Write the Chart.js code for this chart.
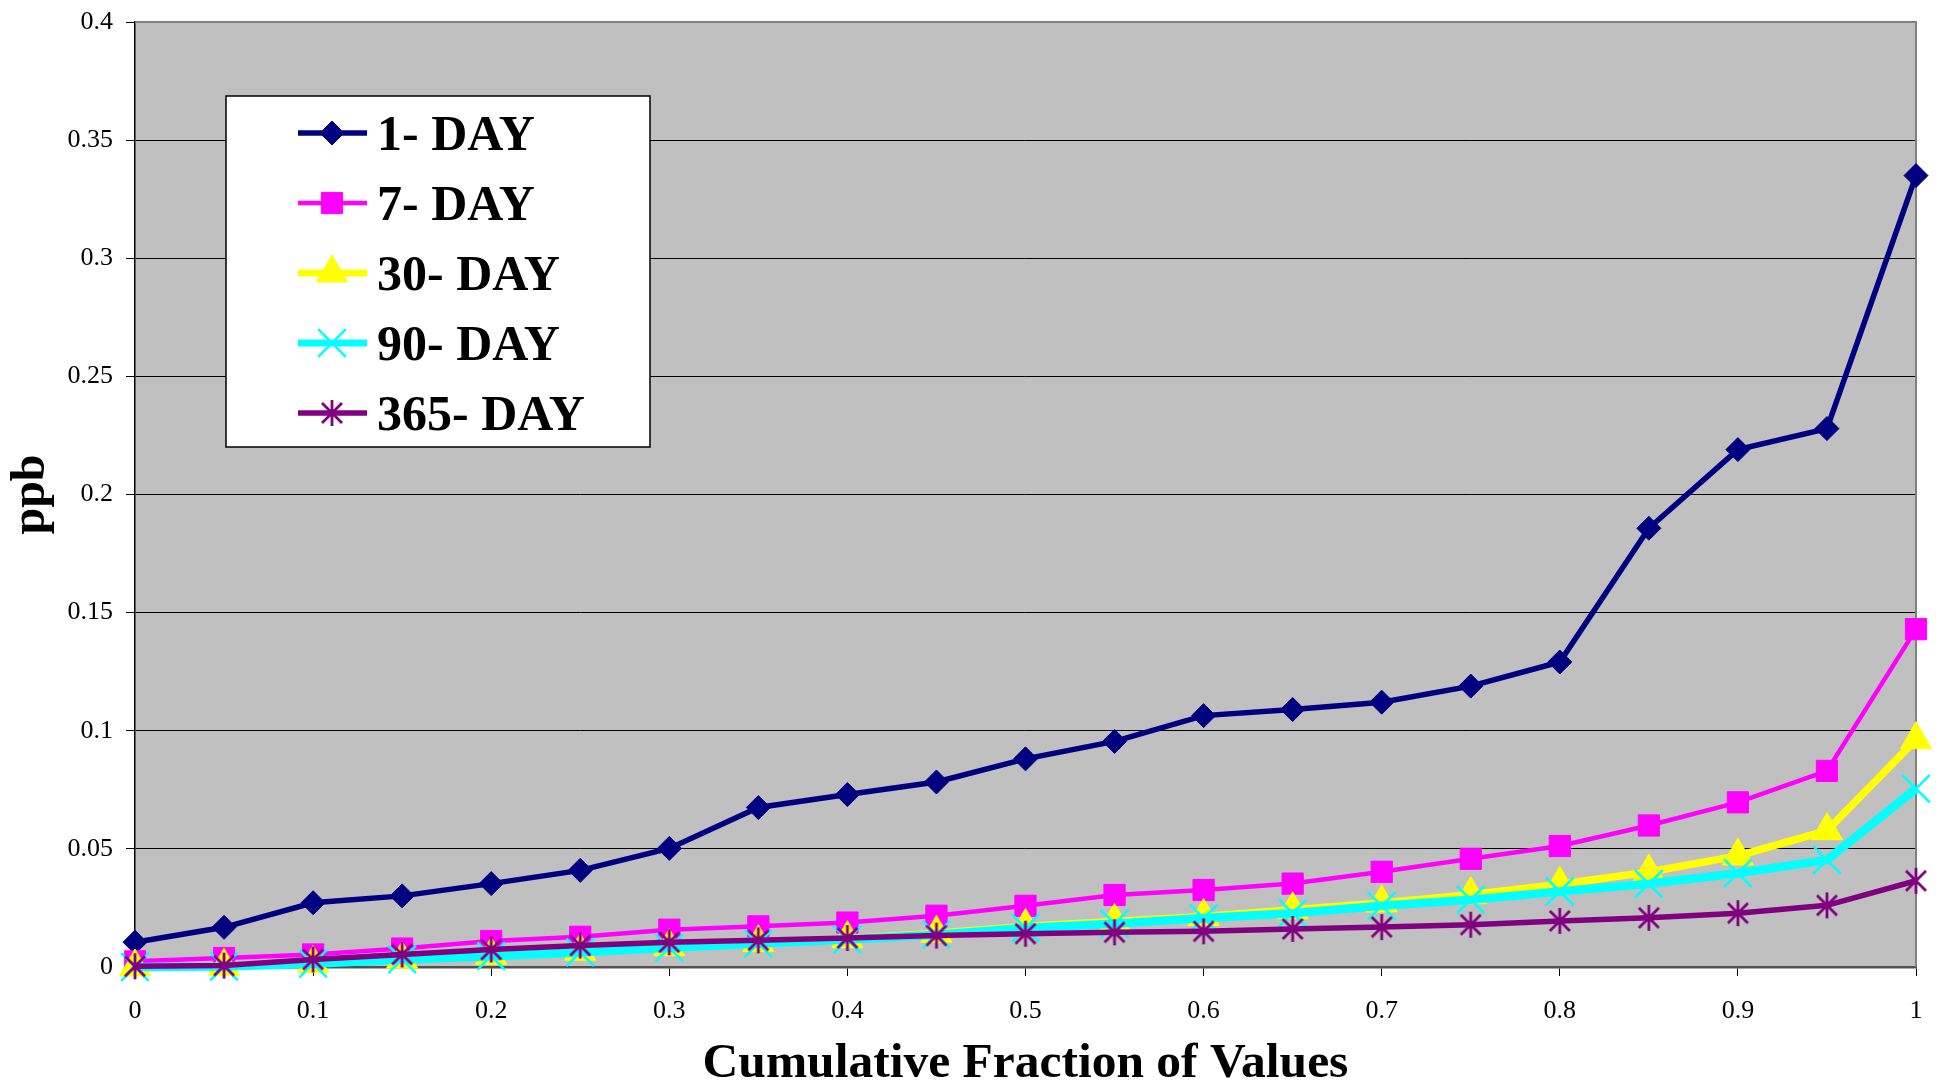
<!DOCTYPE html>
<html>
<head>
<meta charset="utf-8">
<script src="https://cdn.jsdelivr.net/npm/chart.js@4.4.1/dist/chart.umd.min.js"></script>
<style>
  html, body { margin: 0; padding: 0; background: #fff; }
  #wrap { width: 1940px; height: 1086px; }
</style>
</head>
<body>
<div id="wrap"><canvas id="myChart" width="1940" height="1086"></canvas></div>
<script>
// x = cumulative fraction
const fractions = [0, 0.05, 0.1, 0.15, 0.2, 0.25, 0.3, 0.35, 0.4, 0.45, 0.5,
                   0.55, 0.6, 0.65, 0.7, 0.75, 0.8, 0.85, 0.9, 0.95, 1];

const seriesNames = ['1- DAY', '7- DAY', '30- DAY', '90- DAY', '365- DAY'];

// ppb values
const oneDay    = [0.0105, 0.0168, 0.0272, 0.0301, 0.0353, 0.0409, 0.0502, 0.0675, 0.0730, 0.0783, 0.0881,
                   0.0955, 0.1064, 0.1090, 0.1121, 0.1189, 0.1291, 0.1857, 0.2190, 0.2279, 0.3350];
const sevenDay  = [0.0024, 0.0038, 0.0053, 0.0078, 0.0110, 0.0128, 0.0158, 0.0172, 0.0188, 0.0217, 0.0259,
                   0.0305, 0.0326, 0.0353, 0.0403, 0.0458, 0.0512, 0.0599, 0.0697, 0.0830, 0.1430];
const thirtyDay = [0.0000, 0.0003, 0.0015, 0.0033, 0.0050, 0.0067, 0.0086, 0.0103, 0.0120, 0.0143, 0.0172,
                   0.0193, 0.0214, 0.0242, 0.0271, 0.0306, 0.0350, 0.0402, 0.0470, 0.0577, 0.0962];
const ninetyDay = [0.0000, 0.0002, 0.0014, 0.0032, 0.0046, 0.0062, 0.0081, 0.0099, 0.0116, 0.0137, 0.0165,
                   0.0183, 0.0207, 0.0228, 0.0259, 0.0285, 0.0320, 0.0352, 0.0397, 0.0453, 0.0755];
const yearDay   = [0.0003, 0.0006, 0.0032, 0.0053, 0.0074, 0.0091, 0.0105, 0.0113, 0.0123, 0.0133, 0.0141,
                   0.0147, 0.0151, 0.0161, 0.0169, 0.0179, 0.0195, 0.0208, 0.0228, 0.0261, 0.0365];

const allSeries = [oneDay, sevenDay, thirtyDay, ninetyDay, yearDay];

const FONT = "'Liberation Serif', 'Times New Roman', serif";

// asterisk marker (X + vertical bar) like the excel one
function makeAsterisk(color) {
  const c = document.createElement('canvas');
  c.width = 28; c.height = 30;
  const g = c.getContext('2d');
  g.strokeStyle = color; g.lineWidth = 2.8; g.lineCap = 'butt';
  g.translate(14, 15);
  g.beginPath();
  g.moveTo(-10, -10); g.lineTo(10, 10);
  g.moveTo(-10, 10); g.lineTo(10, -10);
  g.moveTo(0, -13); g.lineTo(0, 13);
  g.stroke();
  return c;
}

const styles = [
  { color: '#000080', width: 5.5, point: 'rectRot', radius: 12, pbw: 1 },
  { color: '#FF00FF', width: 4.5, point: 'rect', radius: 15, pbw: 1 },
  { color: '#FFFF00', width: 7.5, point: 'triangle', radius: 18, pbw: 1 },
  { color: '#00FFFF', width: 8.5, point: 'crossRot', radius: 19.5, pbw: 2.5 },
  { color: '#800080', width: 5.5, point: makeAsterisk('#800080'), radius: 10, pbw: 1 }
];

const datasets = allSeries.map((s, k) => ({
  label: seriesNames[k],
  data: fractions.map((x, i) => ({ x: x, y: s[i] })),
  borderColor: styles[k].color,
  backgroundColor: styles[k].color,
  borderWidth: styles[k].width,
  pointStyle: styles[k].point,
  pointRadius: styles[k].radius,
  pointBackgroundColor: styles[k].color,
  pointBorderColor: styles[k].color,
  pointBorderWidth: styles[k].pbw,
  tension: 0,
  clip: false,
  order: allSeries.length - k   // later series on top
}));

// grey plot area + border
const plotBg = {
  id: 'plotBg',
  beforeDraw(chart) {
    const { ctx, chartArea: a } = chart;
    ctx.save();
    ctx.fillStyle = '#C0C0C0';
    ctx.fillRect(a.left, a.top, a.right - a.left, a.bottom - a.top);
    ctx.restore();
  },
  beforeDatasetsDraw(chart) {
    const { ctx, chartArea: a } = chart;
    ctx.save();
    ctx.strokeStyle = '#808080';
    ctx.lineWidth = 2;
    ctx.beginPath();
    ctx.moveTo(a.left, a.top); ctx.lineTo(a.right, a.top); ctx.lineTo(a.right, a.bottom);
    ctx.stroke();
    ctx.restore();
  }
};

function legendMarker(ctx, st, x, y) {
  ctx.save();
  ctx.fillStyle = st.color; ctx.strokeStyle = st.color;
  ctx.lineWidth = st.pbw;
  const r = st.radius;
  ctx.beginPath();
  if (typeof st.point !== 'string') {
    ctx.drawImage(st.point, x - st.point.width / 2, y - st.point.height / 2);
  } else if (st.point === 'rectRot') {
    ctx.moveTo(x, y - r); ctx.lineTo(x + r, y); ctx.lineTo(x, y + r); ctx.lineTo(x - r, y);
    ctx.closePath(); ctx.fill(); ctx.stroke();
  } else if (st.point === 'rect') {
    const h = r * Math.SQRT1_2;
    ctx.rect(x - h, y - h, 2 * h, 2 * h); ctx.fill(); ctx.stroke();
  } else if (st.point === 'triangle') {
    ctx.moveTo(x, y - r);
    ctx.lineTo(x + r * Math.cos(Math.PI / 6), y + r / 2);
    ctx.lineTo(x - r * Math.cos(Math.PI / 6), y + r / 2);
    ctx.closePath(); ctx.fill(); ctx.stroke();
  } else if (st.point === 'crossRot') {
    const h = r * Math.SQRT1_2;
    ctx.moveTo(x - h, y - h); ctx.lineTo(x + h, y + h);
    ctx.moveTo(x - h, y + h); ctx.lineTo(x + h, y - h);
    ctx.stroke();
  }
  ctx.restore();
}

// boxed legend inside the plot
const boxLegend = {
  id: 'boxLegend',
  afterDatasetsDraw(chart) {
    const ctx = chart.ctx;
    ctx.save();
    ctx.fillStyle = '#fff';
    ctx.fillRect(226, 96, 424, 351);
    ctx.strokeStyle = '#000';
    ctx.lineWidth = 1.5;
    ctx.strokeRect(226, 96, 424, 351);
    seriesNames.forEach((name, k) => {
      const st = styles[k];
      const y = 133 + k * 70;
      ctx.strokeStyle = st.color;
      ctx.lineWidth = Math.min(st.width, 7);
      ctx.beginPath(); ctx.moveTo(298, y); ctx.lineTo(367, y); ctx.stroke();
      legendMarker(ctx, st, 332, y);
      ctx.fillStyle = '#000';
      ctx.font = 'bold 50px ' + FONT;
      ctx.textBaseline = 'alphabetic';
      ctx.fillText(name, 377, y + 17);
    });
    ctx.restore();
  }
};

Chart.defaults.font.family = FONT;
Chart.defaults.color = '#000';

const ctx = document.getElementById('myChart').getContext('2d');
const myChart = new Chart(ctx, {
  type: 'line',
  data: { datasets: datasets },
  options: {
    responsive: false,
    animation: false,
    layout: { padding: { left: 0, top: 19, right: 24, bottom: 0 } },
    plugins: { legend: { display: false }, tooltip: { enabled: false } },
    scales: {
      x: {
        type: 'linear', min: 0, max: 1,
        afterFit(scale) { scale.height = 119; scale.paddingLeft = 0; scale.paddingRight = 0; },
        ticks: { stepSize: 0.1, padding: 20, font: { size: 26 }, color: '#000',
                 callback: v => String(+v.toFixed(2)) },
        grid: { drawOnChartArea: false, drawTicks: true, tickLength: 9, color: '#000', lineWidth: 1 },
        border: { color: '#505050', width: 2.5 },
        title: { display: true, text: 'Cumulative Fraction of Values', color: '#000',
                 font: { size: 49.5, weight: 'bold', lineHeight: 0.8 }, padding: { top: 0, bottom: 2 } }
      },
      y: {
        min: 0, max: 0.4,
        afterFit(scale) { scale.width = 135; scale.paddingTop = 0; scale.paddingBottom = 0; },
        ticks: { stepSize: 0.05, padding: 13, font: { size: 26 }, color: '#000',
                 callback: v => String(+v.toFixed(2)) },
        grid: { color: '#000', lineWidth: 1, tickLength: 9 },
        border: { color: '#000', width: 1.5 },
        title: { display: true, text: 'ppb', color: '#000',
                 font: { size: 48, weight: 'bold', lineHeight: 1 }, padding: { top: 8, bottom: 0 } }
      }
    }
  },
  plugins: [plotBg, boxLegend]
});
</script>
</body>
</html>
